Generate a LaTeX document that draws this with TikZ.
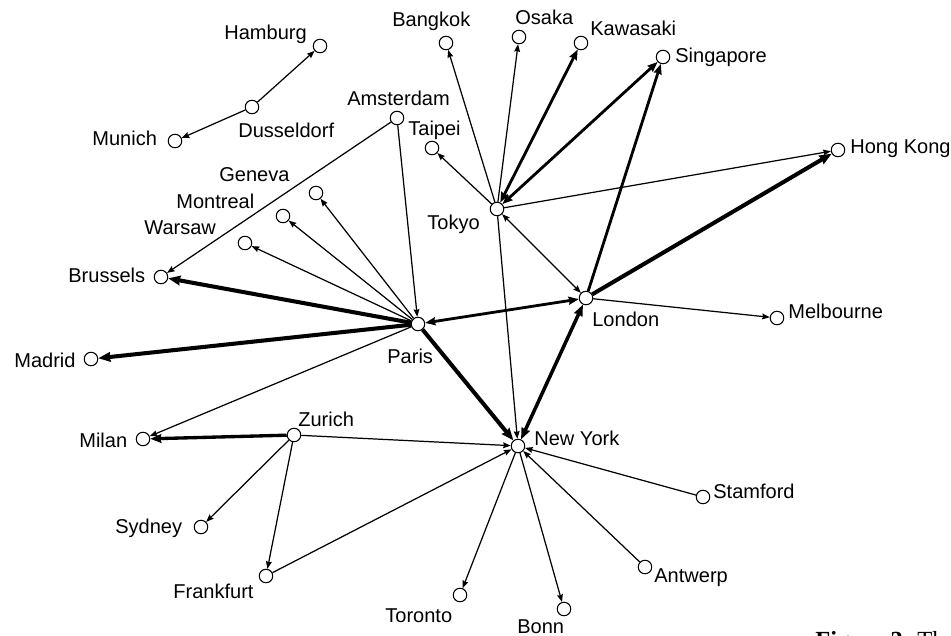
\documentclass[tikz,border=0pt]{standalone}
\usepackage{fontspec}
\setmainfont{Liberation Sans}
\newfontfamily\captionserif{Liberation Serif}
\usetikzlibrary{arrows.meta}

\tikzset{
  >={Stealth[length=3.2pt 1.6, width=2.4pt 1.3, inset=0.5pt]},
  city/.style={circle, draw, line width=0.6pt, fill=white, inner sep=0pt, minimum size=0.27cm},
  cityname/.style={anchor=base west, inner sep=0pt, font=\fontsize{11.4}{13}\selectfont},
  link/.style={line width=0.7pt},
  strong/.style={line width=1.6pt},
  heavy/.style={line width=2.3pt}
}

\begin{document}
\begin{tikzpicture}[x=0.02cm, y=-0.02cm]
\useasboundingbox (0,0) rectangle (951,636);
% cities
\node[city] (hamburg) at (320,46) {};
\node[city] (dusseldorf) at (252,107) {};
\node[city] (munich) at (175,141) {};
\node[city] (amsterdam) at (397,118) {};
\node[city] (taipei) at (432,148) {};
\node[city] (bangkok) at (446,43) {};
\node[city] (osaka) at (519,37) {};
\node[city] (kawasaki) at (581,43) {};
\node[city] (singapore) at (663,57) {};
\node[city] (tokyo) at (497,209) {};
\node[city] (hongkong) at (838,150) {};
\node[city] (london) at (586,298) {};
\node[city] (melbourne) at (777,318) {};
\node[city] (paris) at (418,324) {};
\node[city] (brussels) at (161,277) {};
\node[city] (madrid) at (91,359) {};
\node[city] (warsaw) at (245,243) {};
\node[city] (montreal) at (283,216) {};
\node[city] (geneva) at (316,193) {};
\node[city] (zurich) at (294,435) {};
\node[city] (milan) at (143,439) {};
\node[city] (sydney) at (201,527) {};
\node[city] (frankfurt) at (266,576) {};
\node[city] (toronto) at (460,595) {};
\node[city] (newyork) at (518,446) {};
\node[city] (stamford) at (703,497) {};
\node[city] (antwerp) at (645,567) {};
\node[city] (bonn) at (564,609) {};

% names
\node[cityname] (hamburg-l) at (224,39) {Hamburg};
\node[cityname] (dusseldorf-l) at (238,137) {Dusseldorf};
\node[cityname] (munich-l) at (92,145) {Munich};
\node[cityname] (amsterdam-l) at (347,105) {Amsterdam};
\node[cityname] (taipei-l) at (408,135) {Taipei};
\node[cityname] (bangkok-l) at (392,26) {Bangkok};
\node[cityname] (osaka-l) at (515,24) {Osaka};
\node[cityname] (kawasaki-l) at (590,35) {Kawasaki};
\node[cityname] (singapore-l) at (675,62) {Singapore};
\node[cityname] (hongkong-l) at (850,153) {Hong Kong};
\node[cityname] (tokyo-l) at (427,229) {Tokyo};
\node[cityname] (london-l) at (592,326) {London};
\node[cityname] (melbourne-l) at (788,318) {Melbourne};
\node[cityname] (paris-l) at (387,363) {Paris};
\node[cityname] (brussels-l) at (68,282) {Brussels};
\node[cityname] (madrid-l) at (14,367) {Madrid};
\node[cityname] (warsaw-l) at (144,234) {Warsaw};
\node[cityname] (montreal-l) at (176,208) {Montreal};
\node[cityname] (geneva-l) at (219,181) {Geneva};
\node[cityname] (zurich-l) at (298,426) {Zurich};
\node[cityname] (milan-l) at (79,447) {Milan};
\node[cityname] (sydney-l) at (115,533) {Sydney};
\node[cityname] (frankfurt-l) at (173,598) {Frankfurt};
\node[cityname] (toronto-l) at (385,622) {Toronto};
\node[cityname] (newyork-l) at (534,445) {New York};
\node[cityname] (stamford-l) at (713,498) {Stamford};
\node[cityname] (antwerp-l) at (654,582) {Antwerp};
\node[cityname] (bonn-l) at (517,633) {Bonn};

% thin links
\draw[link,->] (dusseldorf) -- (hamburg);
\draw[link,->] (dusseldorf) -- (munich);
\draw[link,->] (amsterdam) -- (brussels);
\draw[link,->] (amsterdam) -- (paris);
\draw[link,->] (tokyo) -- (bangkok);
\draw[link,->] (tokyo) -- (osaka);
\draw[link,->] (tokyo) -- (taipei);
\draw[link,->] (tokyo) -- (hongkong);
\draw[link,<->] (tokyo) -- (london);
\draw[link,->] (tokyo) -- (newyork);
\draw[link,->] (london) -- (melbourne);
\draw[link,->] (paris) -- (warsaw);
\draw[link,->] (paris) -- (montreal);
\draw[link,->] (paris) -- (geneva);
\draw[link,->] (paris) -- (milan);
\draw[link,->] (zurich) -- (newyork);
\draw[link,->] (zurich) -- (sydney);
\draw[link,->] (zurich) -- (frankfurt);
\draw[link,->] (frankfurt) -- (newyork);
\draw[link,->] (newyork) -- (toronto);
\draw[link,->] (newyork) -- (bonn);
\draw[link,->] (antwerp) -- (newyork);
\draw[link,->] (stamford) -- (newyork);

% strong links
\draw[strong,<->] (tokyo) -- (kawasaki);
\draw[strong,<->] (tokyo) -- (singapore);
\draw[strong,->] (london) -- (singapore);
\draw[strong,<->] (paris) -- (london);
\draw[strong,line width=1.9pt,->] (zurich) -- (milan);

% heavy links
\draw[heavy,->] (london) -- (hongkong);
\draw[heavy,->] (paris) -- (brussels);
\draw[heavy,->] (paris) -- (madrid);
\draw[heavy,->] (paris) -- (newyork);
\draw[heavy,line width=2pt,<->] (newyork) -- (london);

% caption, cut off by the page edge
\node[anchor=base west, inner sep=0pt, font=\captionserif\fontsize{14}{16}\selectfont] (caption) at (815,648) {\textbf{Figure 3.} Th};
\end{tikzpicture}
\end{document}
